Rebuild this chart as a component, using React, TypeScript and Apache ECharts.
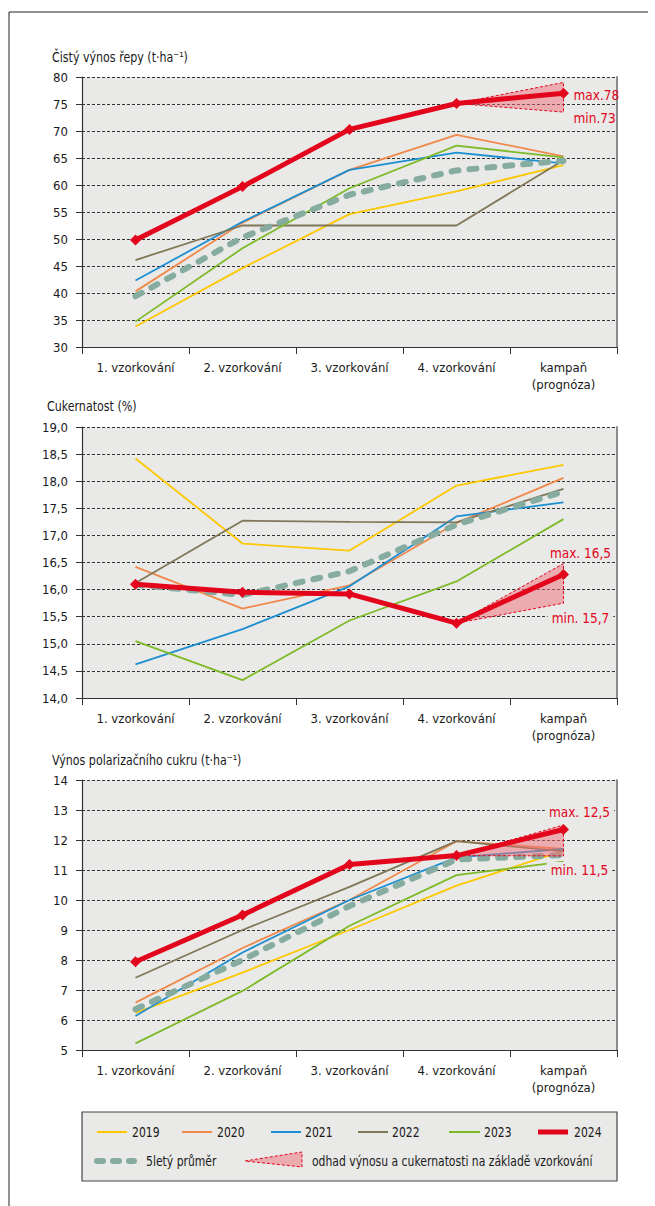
import React, { useEffect, useRef } from "react";
import * as echarts from "echarts";

const FONT = "'Liberation Sans Narrow', 'DejaVu Sans Condensed', 'Roboto', sans-serif";

const categories = ["1. vzorkování", "2. vzorkování", "3. vzorkování", "4. vzorkování", "kampaň\n(prognóza)"];
const years = ["2019", "2020", "2021", "2022", "2023"];
const yearColors = ["#fcc800", "#f0884a", "#1b8fd2", "#7f7757", "#7dba28"];
const RED = "#e3051b";
const AVG = "#86ab9f";

// Chart 1 – Čistý výnos řepy (t·ha-1)
const yield2019 = [33.8, 44.6, 54.6, 58.8, 63.7];
const yield2020 = [40.3, 53.0, 62.8, 69.3, 65.3];
const yield2021 = [42.3, 53.2, 62.8, 66.0, 64.0];
const yield2022 = [46.1, 52.5, 52.5, 52.5, 64.6];
const yield2023 = [34.7, 48.3, 59.4, 67.3, 65.1];
const yield2024 = [49.8, 59.7, 70.3, 75.1, 77.0];
const yieldAvg = [39.4, 50.3, 58.2, 62.7, 64.5];
const yieldEst = [79.0, 73.5];
const yieldEstLabels = ["max.78", "min.73"];

// Chart 2 – Cukernatost (%)
const sugar2019 = [18.42, 16.85, 16.72, 17.92, 18.3];
const sugar2020 = [16.42, 15.65, 16.08, 17.23, 18.06];
const sugar2021 = [14.62, 15.27, 16.06, 17.35, 17.61];
const sugar2022 = [16.12, 17.27, 17.25, 17.24, 17.86];
const sugar2023 = [15.05, 14.33, 15.43, 16.15, 17.3];
const sugar2024 = [16.1, 15.95, 15.92, 15.38, 16.28];
const sugarAvg = [16.09, 15.9, 16.34, 17.2, 17.81];
const sugarEst = [16.48, 15.75];
const sugarEstLabels = ["max. 16,5", "min. 15,7"];

// Chart 3 – Výnos polarizačního cukru (t·ha-1)
const pol2019 = [6.24, 7.58, 9.0, 10.48, 11.64];
const pol2020 = [6.58, 8.4, 10.0, 11.96, 11.7];
const pol2021 = [6.13, 8.25, 10.0, 11.42, 11.7];
const pol2022 = [7.41, 9.0, 10.44, 11.96, 11.62];
const pol2023 = [5.22, 6.97, 9.14, 10.83, 11.28];
const pol2024 = [7.94, 9.5, 11.18, 11.48, 12.35];
const polAvg = [6.36, 8.0, 9.8, 11.35, 11.5];
const polEst = [12.5, 11.47];
const polEstLabels = ["max. 12,5", "min. 11,5"];

const titles = ["Čistý výnos řepy (t·ha⁻¹)", "Cukernatost (%)", "Výnos polarizačního cukru (t·ha⁻¹)"];
const legendAvgLabel = "5letý průměr";
const legendEstLabel = "odhad výnosu a cukernatosti na základě vzorkování";

type Panel = {
  title: string;
  years: number[][];
  red: number[];
  avg: number[];
  est: number[];
  estLabels: string[];
  min: number;
  max: number;
  interval: number;
  fmt: (v: number) => string;
  grid: { top: number; height: number };
  titleY: number;
  titleLeft: number;
  maxOff: [number, number, string];
  minOff: [number, number, string];
  labelBg: string;
};

const PLOT_BG = "#e9e9e7";
const NARROW = 0.88;

const panels: Panel[] = [
  {
    title: titles[0],
    years: [yield2019, yield2020, yield2021, yield2022, yield2023],
    red: yield2024, avg: yieldAvg, est: yieldEst, estLabels: yieldEstLabels,
    min: 30, max: 80, interval: 5, fmt: (v) => String(v),
    grid: { top: 77, height: 270 }, titleY: 57, titleLeft: 52,
    maxOff: [6, 13, "left"], minOff: [6, 6, "left"], labelBg: "transparent",
  },
  {
    title: titles[1],
    years: [sugar2019, sugar2020, sugar2021, sugar2022, sugar2023],
    red: sugar2024, avg: sugarAvg, est: sugarEst, estLabels: sugarEstLabels,
    min: 14, max: 19, interval: 0.5, fmt: (v) => v.toFixed(1).replace(".", ","),
    grid: { top: 427, height: 271 }, titleY: 406, titleLeft: 47,
    maxOff: [17, -11, "center"], minOff: [17, 15, "center"], labelBg: PLOT_BG,
  },
  {
    title: titles[2],
    years: [pol2019, pol2020, pol2021, pol2022, pol2023],
    red: pol2024, avg: polAvg, est: polEst, estLabels: polEstLabels,
    min: 5, max: 14, interval: 1, fmt: (v) => String(v),
    grid: { top: 780, height: 270 }, titleY: 760, titleLeft: 52,
    maxOff: [16, -13, "center"], minOff: [16, 14, "center"], labelBg: PLOT_BG,
  },
];

function buildOption() {
  const grid: any[] = [];
  const xAxis: any[] = [];
  const yAxis: any[] = [];
  const series: any[] = [];
  const graphic: any[] = [];

  panels.forEach((p, i) => {
    grid.push({
      left: 82, right: 38, top: p.grid.top, height: p.grid.height,
      show: true, backgroundColor: PLOT_BG, borderWidth: 0,
    });
    graphic.push({
      type: "text", x: p.titleLeft, y: p.titleY, scaleX: NARROW,
      style: { text: p.title, fill: "#1a1a1a", fontFamily: FONT, fontSize: 14, verticalAlign: "middle" },
    });
    xAxis.push({
      type: "category", gridIndex: i, data: categories, boundaryGap: true,
      axisLine: { show: true, lineStyle: { color: "#333", width: 1.2 } },
      axisTick: { show: true, length: 7, interval: 0, lineStyle: { color: "#333" } },
      axisLabel: { interval: 0, margin: 12, fontFamily: FONT, fontSize: 13, color: "#1a1a1a", lineHeight: 17 },
      splitLine: { show: false },
    });
    yAxis.push({
      type: "value", gridIndex: i, min: p.min, max: p.max, interval: p.interval,
      axisLine: { show: true, lineStyle: { color: "#333", width: 1.2 } },
      axisTick: { show: true, length: 6, lineStyle: { color: "#333" } },
      axisLabel: { margin: 14, fontFamily: FONT, fontSize: 13, color: "#1a1a1a", formatter: p.fmt },
      splitLine: { show: true, lineStyle: { color: "#333", width: 1, type: [3, 2] } },
    });
  });
  // right borders
  panels.forEach((p, i) => {
    yAxis.push({
      type: "value", gridIndex: i, position: "right", min: 0, max: 1,
      axisLine: { show: true, lineStyle: { color: "#8c8c8c", width: 2 } },
      axisTick: { show: false }, axisLabel: { show: false }, splitLine: { show: false },
    });
  });

  panels.forEach((p, i) => {
    p.years.forEach((d, k) => {
      series.push({
        type: "line", name: years[k], xAxisIndex: i, yAxisIndex: i, data: d,
        symbol: "none", z: 2,
        lineStyle: { color: yearColors[k], width: 1.8 },
      });
    });
    series.push({
      type: "line", name: "avg", xAxisIndex: i, yAxisIndex: i, data: p.avg,
      symbol: "none", z: 3,
      lineStyle: { color: AVG, width: 6, type: [7, 11], cap: "round" },
    });
    series.push({
      type: "custom", xAxisIndex: i, yAxisIndex: i, z: 4, clip: false,
      data: [[3, p.red[3], p.est[0], p.est[1]]],
      encode: { x: 0, y: 1 },
      renderItem: (params: any, api: any) => {
        const p0 = api.coord([api.value(0), api.value(1)]);
        const pMax = api.coord([api.value(0) + 1, api.value(2)]);
        const pMin = api.coord([api.value(0) + 1, api.value(3)]);
        const mkText = (pt: number[], off: [number, number, string], txt: string) => ({
          type: "text",
          x: pt[0] + off[0],
          y: pt[1] + off[1],
          style: {
            text: txt, fill: RED, fontFamily: FONT, fontSize: 13.5,
            align: off[2], verticalAlign: "middle",
            backgroundColor: p.labelBg, padding: [1, 4],
          },
        });
        return {
          type: "group",
          children: [
            {
              type: "polygon",
              shape: { points: [p0, pMax, pMin] },
              style: { fill: "rgba(240,110,120,0.5)", stroke: RED, lineWidth: 1, lineDash: [3, 2] },
            },
            mkText(pMax, p.maxOff, p.estLabels[0]),
            mkText(pMin, p.minOff, p.estLabels[1]),
          ],
        };
      },
    });
    series.push({
      type: "line", name: "2024", xAxisIndex: i, yAxisIndex: i, data: p.red,
      symbol: "diamond", symbolSize: 11, z: 5,
      itemStyle: { color: RED },
      lineStyle: { color: RED, width: 5 },
    });
  });

  // Legend & frame (decorative graphics)
  const LY1 = 1132;
  const LY2 = 1161;
  const yearLegendPos = [
    [97, 127, 132], [182, 212, 217], [271, 301, 305], [358, 388, 392], [449, 480, 484],
  ];
  const txt = (x: number, y: number, t: string) => ({
    type: "text", x, y, scaleX: 0.86,
    style: { text: t, fill: "#1a1a1a", fontFamily: FONT, fontSize: 14, verticalAlign: "middle" },
  });
  const legendChildren: any[] = [
    {
      type: "rect", shape: { x: 82, y: 1112, width: 535, height: 69 },
      style: { fill: PLOT_BG, stroke: "#444", lineWidth: 1.2 },
    },
  ];
  yearLegendPos.forEach((pos, k) => {
    legendChildren.push({
      type: "line", shape: { x1: pos[0], y1: LY1, x2: pos[1], y2: LY1 },
      style: { stroke: yearColors[k], lineWidth: 2 },
    });
    legendChildren.push(txt(pos[2], LY1, years[k]));
  });
  legendChildren.push({
    type: "line", shape: { x1: 538, y1: LY1, x2: 568, y2: LY1 },
    style: { stroke: RED, lineWidth: 5 },
  });
  legendChildren.push(txt(574, LY1, "2024"));
  legendChildren.push({
    type: "line", shape: { x1: 97, y1: LY2, x2: 134, y2: LY2 },
    style: { stroke: AVG, lineWidth: 6, lineDash: [6, 10], lineCap: "round" },
  });
  legendChildren.push(txt(146, LY2, legendAvgLabel));
  legendChildren.push({
    type: "polygon", shape: { points: [[245, LY2], [302, LY2 - 9], [302, LY2 + 6]] },
    style: { fill: "rgba(240,110,120,0.5)", stroke: RED, lineWidth: 1, lineDash: [3, 2] },
  });
  legendChildren.push(txt(312, LY2, legendEstLabel));

  graphic.push(
    { type: "line", shape: { x1: 9, y1: 12, x2: 648, y2: 12 }, style: { stroke: "#222", lineWidth: 1 } },
    { type: "line", shape: { x1: 9, y1: 12, x2: 9, y2: 1206 }, style: { stroke: "#222", lineWidth: 1 } },
    { type: "group", children: legendChildren },
  );

  return {
    animation: false,
    backgroundColor: "#ffffff",
    textStyle: { fontFamily: FONT },
    grid, xAxis, yAxis, series, graphic,
  };
}

export default function App() {
  const ref = useRef<HTMLDivElement>(null);
  useEffect(() => {
    document.body.style.margin = "0";
    if (!ref.current) return;
    const chart = echarts.init(ref.current, undefined, { renderer: "svg" });
    chart.setOption(buildOption() as any);
    return () => chart.dispose();
  }, []);
  return <div ref={ref} style={{ width: 655, height: 1206 }} />;
}
